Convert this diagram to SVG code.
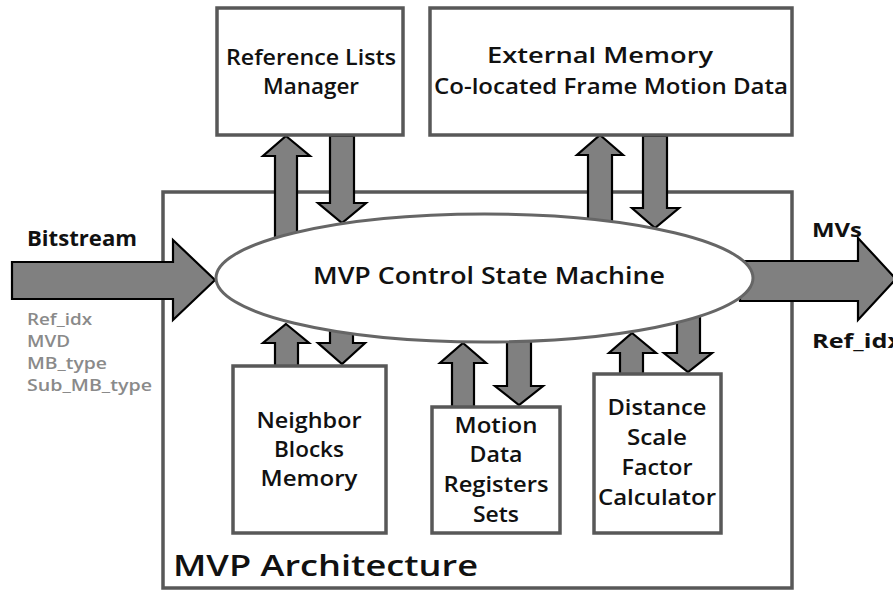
<svg xmlns="http://www.w3.org/2000/svg" width="893" height="590" viewBox="0 0 893 590">
  <style>
    .frame { fill: #ffffff; stroke: #585858; stroke-width: 3.5; }
    .box { fill: #ffffff; stroke: #585858; stroke-width: 3.5; }
    .hub { fill: #ffffff; stroke: #666666; stroke-width: 3; }
    .arrow { fill: #808080; stroke: #000000; stroke-width: 2.2; stroke-linejoin: miter; }
    .lbl { font-family: "Open Sans", "Liberation Sans", sans-serif; font-weight: 600; fill: #111111; text-anchor: middle; }
    .in { font-family: "Open Sans", "Liberation Sans", sans-serif; font-weight: bold; fill: #111111; }
    .sig { font-family: "Open Sans", "Liberation Sans", sans-serif; font-weight: 600; fill: #8a8a8a; font-size: 16px; }
  </style>

  <!-- enclosing MVP block -->
  <g id="mvp-architecture">
    <rect class="frame" x="163" y="192" width="629" height="396"/>
    <text class="lbl" x="173" y="576" font-size="29" style="text-anchor:start" textLength="305" lengthAdjust="spacingAndGlyphs">MVP Architecture</text>
  </g>

  <!-- block arrows between the units -->
  <g id="connectors">
    <!-- bitstream in / MVs out -->
    <polygon class="arrow" points="12,262 173,262 173,240 215,280 173,320 173,299 12,299"/>
    <polygon class="arrow" points="740,261 858,261 858,238 896,279 858,320 858,301 740,301"/>
    <!-- reference lists manager -->
    <polygon class="arrow" points="286,136 310,156 297,156 297,242 275,242 275,156 263,156"/>
    <polygon class="arrow" points="330,136 354,136 354,203 366,203 342,223 318,203 330,203"/>
    <!-- external memory -->
    <polygon class="arrow" points="600,135 623,155 612,155 612,226 588,226 588,155 577,155"/>
    <polygon class="arrow" points="643,136 667,136 667,208 679,208 655,228 632,208 643,208"/>
    <!-- neighbor blocks memory -->
    <polygon class="arrow" points="286,324 309,343 298,343 298,366 275,366 275,343 263,343"/>
    <polygon class="arrow" points="330,328 353,328 353,343 365,343 342,364 318,343 330,343"/>
    <!-- motion data registers -->
    <polygon class="arrow" points="463,343 486,363 474,363 474,407 452,407 452,363 440,363"/>
    <polygon class="arrow" points="507,334 531,334 531,386 543,386 519,405 495,386 507,386"/>
    <!-- distance scale factor -->
    <polygon class="arrow" points="632,333 656,353 643,353 643,374 620,374 620,353 609,353"/>
    <polygon class="arrow" points="677,314 700,314 700,353 712,353 688,372 664,353 677,353"/>
  </g>

  <!-- control state machine -->
  <g id="control-fsm">
    <ellipse class="hub" cx="484.5" cy="278" rx="268.5" ry="64"/>
    <text class="lbl" x="489" y="284" font-size="23" textLength="352" lengthAdjust="spacingAndGlyphs">MVP Control State Machine</text>
  </g>

  <g id="ref-lists-manager">
    <rect class="box" x="217" y="8" width="186" height="127"/>
    <text class="lbl" x="311" y="65" font-size="21" textLength="170" lengthAdjust="spacingAndGlyphs">Reference Lists</text>
    <text class="lbl" x="311" y="94" font-size="21" textLength="96" lengthAdjust="spacingAndGlyphs">Manager</text>
  </g>

  <g id="external-memory">
    <rect class="box" x="430" y="8" width="362" height="127"/>
    <text class="lbl" x="600" y="63" font-size="21" textLength="226" lengthAdjust="spacingAndGlyphs">External Memory</text>
    <text class="lbl" x="611" y="94" font-size="21" textLength="354" lengthAdjust="spacingAndGlyphs">Co-located Frame Motion Data</text>
  </g>

  <g id="neighbor-blocks-memory">
    <rect class="box" x="233" y="366" width="153" height="167"/>
    <text class="lbl" x="309" y="428" font-size="21" textLength="105" lengthAdjust="spacingAndGlyphs">Neighbor</text>
    <text class="lbl" x="309" y="457" font-size="21" textLength="70" lengthAdjust="spacingAndGlyphs">Blocks</text>
    <text class="lbl" x="309" y="486" font-size="21" textLength="97" lengthAdjust="spacingAndGlyphs">Memory</text>
  </g>

  <g id="motion-data-registers">
    <rect class="box" x="432" y="407" width="128" height="126"/>
    <text class="lbl" x="496" y="433" font-size="21" textLength="83" lengthAdjust="spacingAndGlyphs">Motion</text>
    <text class="lbl" x="496" y="462" font-size="21" textLength="53" lengthAdjust="spacingAndGlyphs">Data</text>
    <text class="lbl" x="496" y="492" font-size="21" textLength="105" lengthAdjust="spacingAndGlyphs">Registers</text>
    <text class="lbl" x="496" y="522" font-size="21" textLength="46" lengthAdjust="spacingAndGlyphs">Sets</text>
  </g>

  <g id="distance-scale-factor">
    <rect class="box" x="594" y="374" width="127" height="159"/>
    <text class="lbl" x="657" y="415" font-size="21" textLength="99" lengthAdjust="spacingAndGlyphs">Distance</text>
    <text class="lbl" x="657" y="445" font-size="21" textLength="60" lengthAdjust="spacingAndGlyphs">Scale</text>
    <text class="lbl" x="657" y="475" font-size="21" textLength="71" lengthAdjust="spacingAndGlyphs">Factor</text>
    <text class="lbl" x="657" y="505" font-size="21" textLength="118" lengthAdjust="spacingAndGlyphs">Calculator</text>
  </g>

  <!-- stream labels -->
  <g id="io-labels">
    <text class="in" x="27" y="246" font-size="21" textLength="110" lengthAdjust="spacingAndGlyphs">Bitstream</text>
    <text class="sig" x="27" y="325" textLength="65" lengthAdjust="spacingAndGlyphs">Ref_idx</text>
    <text class="sig" x="27" y="347" textLength="43" lengthAdjust="spacingAndGlyphs">MVD</text>
    <text class="sig" x="27" y="369" textLength="80" lengthAdjust="spacingAndGlyphs">MB_type</text>
    <text class="sig" x="27" y="391" textLength="125" lengthAdjust="spacingAndGlyphs">Sub_MB_type</text>
    <text class="in" x="812" y="237" font-size="19" textLength="50" lengthAdjust="spacingAndGlyphs">MVs</text>
    <text class="in" x="812" y="348" font-size="19" textLength="90" lengthAdjust="spacingAndGlyphs">Ref_idx</text>
  </g>
</svg>
